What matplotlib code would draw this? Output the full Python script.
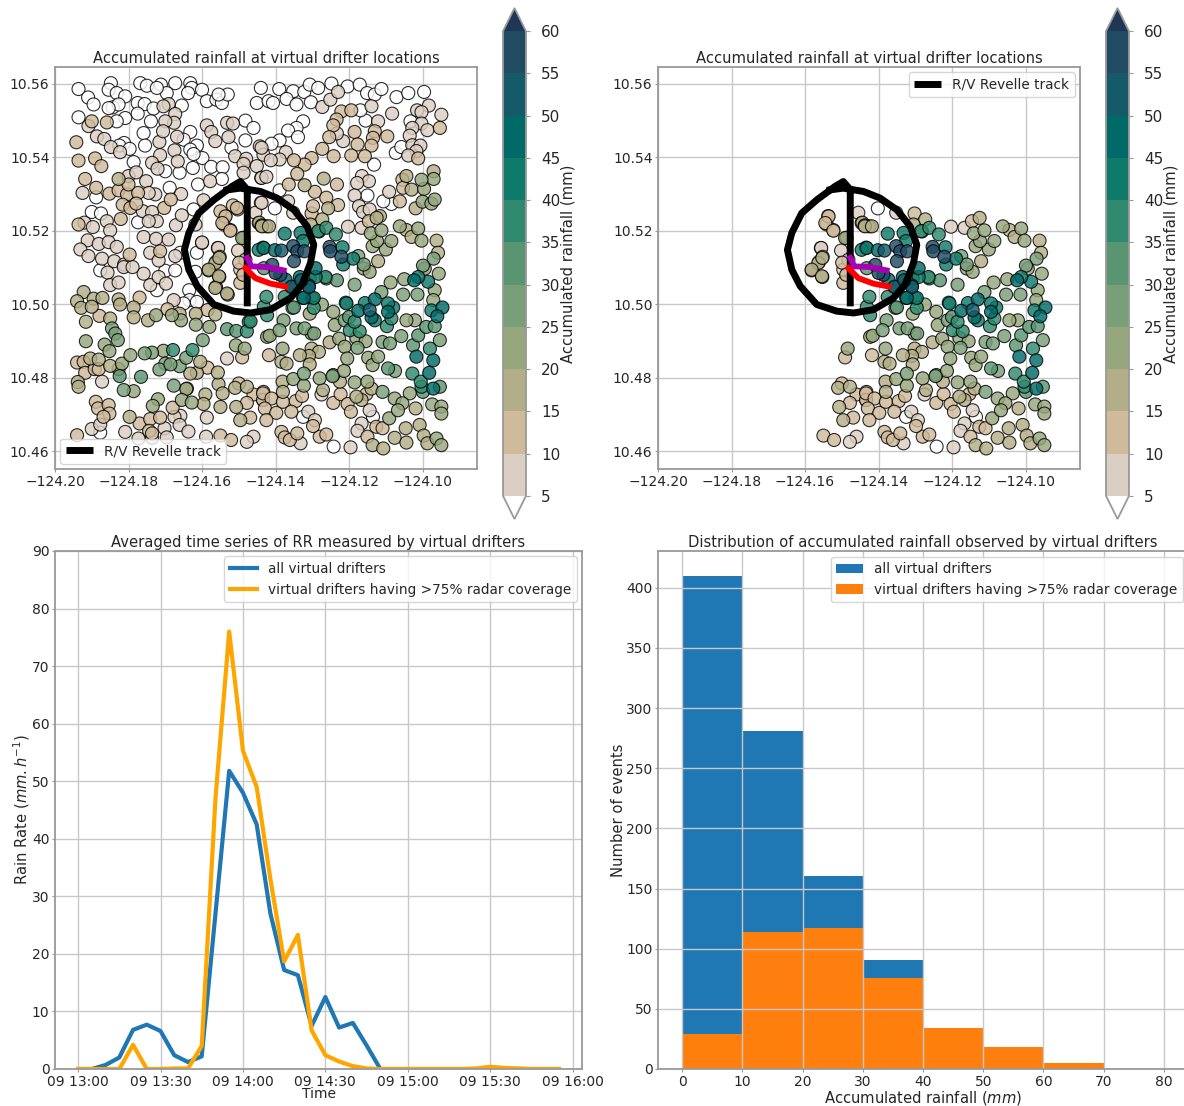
import numpy as np
import matplotlib
matplotlib.use("Agg")
import matplotlib.pyplot as plt
from matplotlib.colors import ListedColormap, BoundaryNorm
from matplotlib.path import Path
from matplotlib.cm import ScalarMappable
from matplotlib.ticker import FormatStrFormatter

# Drifter positions: offsets from lon -124.20 / lat 10.46, in 1e-4 degrees, grouped by rainfall class
P_3 = [(64,986),(152,1002),(90,963),(105,944),(146,984),(168,975),(191,966),(157,936),(173,944),(146,934),(232,1002),(250,995),(288,998),(327,1002),(368,1002),(372,989),(362,975),(400,984),(304,975),(277,989),(225,948),(244,945),(225,919),(268,933),(345,941),(413,953),(439,957),(454,948),(470,971),(445,971),(560,989),(549,948),(581,953),(64,909),(191,907),(168,898),(261,898),(241,866),(245,832),(368,869),(350,848),(386,832),(368,821),(401,798),(377,809),(518,900),(540,880),(518,846),(480,826),(188,839),(175,832),(203,823),(214,787),(300,762),(339,758),(375,771),(425,774),(456,773),(454,741),(389,726),(312,717),(112,691),(100,651),(125,647),(226,623),(377,658),(341,540),(386,540),
(610,986),(648,980),(678,978),(693,998),(716,989),(752,1001),(796,993),(829,998),(849,975),(870,971),(888,986),(929,964),(961,975),(1004,978),(593,948),(630,959),(657,944),(696,950),(675,898),(657,880),(634,873),(661,855),(611,846),(589,837),(845,900),(831,928),(868,780),(927,812),(942,828),(967,898),(850,696),(915,673),(893,680),(611,710),(598,661),
(123,492),(277,438),(300,491),(327,492),(365,438),(366,411),(350,402),(386,406),(123,50),(382,488),(758,12),(675,93),(865,93)]
P_7 = [(309,945),(295,939),(327,918),(324,894),(300,898),(91,885),(114,857),(134,850),(152,828),(177,814),(284,842),(294,871),(332,856),(325,819),(286,806),(334,789),(264,785),(279,769),(413,887),(425,869),(436,844),(472,855),(468,894),(484,892),(490,803),(520,796),(557,830),(567,807),(549,776),(513,782),(513,758),(561,744),(200,749),(221,759),(248,735),(75,703),(273,699),(255,703),(343,700),(422,735),(560,676),(404,683),(239,653),(264,651),(277,626),(255,626),(80,622),(103,610),(141,626),(150,601),(89,574),(119,564),(146,569),(168,556),(69,549),(91,531),(128,524),(161,517),(188,508),(241,583),(275,578),(309,576),(259,540),(282,519),(329,615),(345,642),(382,617),(400,567),(443,553),(327,531),(545,649),
(727,937),(749,957),(770,978),(861,939),(917,919),(879,898),(985,928),(1017,941),(1051,916),(997,923),(997,892),(972,880),(1013,874),(965,859),(972,833),(994,832),(983,817),(961,805),(784,844),(767,865),(628,814),(611,794),(587,792),(562,826),(562,744),(575,747),(835,749),(854,735),(822,730),(909,706),(815,696),(827,667),(838,651),(856,658),(634,680),(648,649),(562,676),(797,611),(834,608),
(143,486),(150,452),(173,459),(259,452),(282,474),(302,456),(241,483),(187,501),(211,501),(323,411),(128,189),(413,91),(341,96),(325,93),(339,71),(298,62),(363,53),(191,52),(100,60),(123,72),(227,34),(264,36),(304,37),(411,39),(540,39),(522,25),(468,252),
(668,21),(689,107),(707,84),(725,154),(804,10),(834,75),(823,55),(856,111),(566,139),(444,553),(498,546),(400,568),(504,494),(518,521)]
P_12 = [(100,898),(141,895),(58,841),(64,791),(109,797),(126,776),(82,741),(112,717),(148,701),(173,710),(196,699),(226,703),(200,726),(184,671),(205,662),(221,674),(297,662),(315,685),(179,632),(64,617),(203,535),(463,640),(450,653),(459,617),(477,602),(497,658),(484,669),(501,513),(286,544),
(779,925),(806,928),(766,903),(757,887),(746,855),(815,869),(823,835),(870,871),(865,853),(861,832),(904,857),(727,823),(758,803),(806,805),(843,803),(698,798),(679,780),(659,755),(650,792),(636,726),(767,726),(707,706),(738,690),(770,670),(698,647),(702,667),(938,680),(945,739),(947,717),(854,626),(1047,880),(988,797),
(230,418),(121,368),(60,241),(78,243),(82,213),(108,223),(119,223),(111,134),(117,116),(146,125),(148,102),(132,93),(230,75),(259,87),(286,91),(256,55),(264,48),(320,118),(306,386),(415,384),(415,227),(500,184),(509,255),(540,154),(567,161),(566,139),(522,131),(531,91),(60,43),(450,42),(479,30),
(582,261),(566,157),(589,143),(571,116),(602,104),(575,84),(616,52),(625,37),(639,30),(659,48),(620,134),(655,136),(672,150),(643,107),(720,39),(738,45),(757,131),(777,155),(796,128),(805,107),(847,155),(874,66),(891,62),(850,39),(702,68),
(504,458),(512,480),(464,639),(455,621),(477,600),(495,662),(554,621)]
P_17 = [(173,741),(556,622),(563,614),(513,581),(438,515),(448,529),
(731,742),(679,724),(743,661),(727,631),(695,617),(956,749),(970,712),(1030,762),(981,661),(575,612),(562,614),(956,602),(970,583),(1038,573),(1042,540),(879,517),(884,640),(875,635),
(78,433),(60,408),(71,390),(105,415),(100,393),(129,417),(173,413),(177,399),(214,391),(214,364),(150,361),(253,356),(84,352),(96,252),(119,249),(62,188),(64,175),(173,223),(150,232),(359,170),(409,154),(450,120),(404,128),(445,182),(456,157),(490,172),(522,175),(493,120),(504,84),(203,93),(443,214),(386,213),(368,211),(395,243),(438,447),(447,474),(418,492),(470,426),(383,374),(339,374),(436,372),
(616,243),(630,238),(698,279),(718,270),(691,259),(693,236),(666,261),(619,189),(620,161),(729,166),(775,189),(834,139),(820,148),(861,170),(981,116),(992,71),(924,36),(956,23),(864,16),(893,7),(1003,42),(1013,21),(954,62),(747,296),
(436,512),(447,526),(418,494),(446,476),(436,444),(468,429),(563,612),(582,612)]
P_22 = [(1030,741),(1004,714),(997,739),(1000,679),(1024,674),(1033,685),(938,612),(988,606),(997,573),(900,549),(915,572),(864,558),(876,572),(859,593),(888,601),
(84,299),(135,290),(148,272),(182,238),(205,261),(214,163),(280,141),(266,123),(357,169),(345,139),(372,132),(275,370),(420,338),(383,344),(343,356),(318,370),(492,288),(577,311),(516,279),(295,273),
(584,314),(619,279),(648,196),(677,178),(720,198),(757,207),(786,218),(815,187),(850,189),(924,143),(909,89),(965,157),(945,130),(933,111),(1026,127),(1051,121),(1051,102),(1038,34),(1051,16),(761,343),(757,379),(773,306),(726,399),(693,374),(698,320),(788,284),(795,252),(852,254),(864,234),(879,257),(820,308),(845,299),(913,459),(950,468),(840,497),(856,488),(1006,497),(1044,483),(1033,438),(1029,411),(979,356),(956,356),(509,580)]
P_27 = [(1030,524),(1001,505),(825,531),(840,508),
(155,334),(164,320),(171,302),(187,166),(323,178),(264,268),(244,266),(300,238),(284,222),(339,231),(357,254),(314,236),(402,302),
(622,356),(611,329),(657,334),(679,334),(705,320),(646,390),(823,281),(788,356),(891,161),(925,218),(891,297),(911,293),(942,313),(755,204),(677,211),(815,453),(888,433),(947,426),(986,426),(1047,302)]
P_32 = [(176,204),(234,202),(468,332),(493,327),(906,225),(693,470),(738,470),(767,465),(791,404),(800,365),(1001,161),(1047,175),(974,288),(988,315),(1010,338),(1033,340),(568,498),(650,391),(718,598)]
P_37 = [(716,599),(738,608),(764,590),(321,275),(374,275),(527,352),(522,326),(577,370),(568,393),(675,417),(700,415),(575,420),(625,420),(903,340),(972,211),(997,175),(995,189),(802,329),(829,326),(815,352),(915,361),(1020,279),(736,474),(704,390),(532,353)]
P_42 = [(625,592),(668,594),(675,572),(566,554),(782,555),(784,508),(811,524),(793,402),(843,403),(920,391),(906,402),(870,356),(1015,461),(1024,383),(988,474),(554,548),(568,553),(709,474),(704,417)]
P_47 = [(598,547),(825,382),(870,413),(861,364),(906,379),(1054,391),(1040,367),(983,257),(1029,247),(1018,213),(977,465),(1029,170),(709,498),(666,474),(690,451),(645,448),(627,467),(677,417)]
P_52 = [(691,447),(643,447),(670,465),(856,384),(616,546)]
P_57 = [(648,558),(659,544),(678,544),(650,517),(747,556),(749,544),(779,529),(591,507),(613,480),(600,485)]

class_points = [P_3, P_7, P_12, P_17, P_22, P_27, P_32, P_37, P_42, P_47, P_52, P_57]
class_rain = [3, 7.5, 12.5, 17.5, 22.5, 27.5, 32.5, 37.5, 42.5, 47.5, 52.5, 57.5]

# Ship track and short tracks, same offset units
track_x = [523,523,504,482,432,391,364,352,364,387,432,486,532,586,641,672,695,704,686,650,604,559,504,459]
track_y = [394,712,734,721,684,648,594,548,494,449,399,381,376,385,417,453,512,562,612,657,689,707,716,710]
purple_x = [523,534,577,622]
purple_y = [526,503,501,492]
red_x = [518,545,586,627]
red_y = [498,471,456,448]

# Region with >75% radar coverage, same offset units
cover_x = [415,469,501,537,528,487,406,428,442,542,641,732,805,870,960,1059,1077,1072]
cover_y = [-5,176,299,321,394,439,476,566,634,675,671,653,640,645,610,600,494,-5]

rain_levels = list(range(5, 65, 5))
rain_colors = ['#dbcfc3','#cfba9a','#b2ae87','#96a67d','#789f78','#5a9571',
               '#2f8a6e','#0d7a6a','#006a69','#155a69','#204b62']

minutes = list(range(0, 180, 5))
rr_all = [0,0,0.7,2.0,6.8,7.7,6.6,2.4,1.2,2.2,27,51.8,48,42.5,27,17.2,16.3,7.5,12.5,7.2,8,4.1,0,0,0,0,0,0,0,0,0,0,0,0,0,0]
rr_cov = [0,0,0,0,4.2,0,0,0.1,0.1,4,47,76,55.3,49,33,18.7,23.3,6.7,2.4,1.3,0.5,0.1,0,0,0,0,0,0,0,0.1,0.4,0.2,0.1,0,0,0]
time_ticks = [0,30,60,90,120,150,180]
time_labels = ['09 13:00','09 13:30','09 14:00','09 14:30','09 15:00','09 15:30','09 16:00']

hist_left = [0,10,20,30,40,50,60,70]
hist_all = [410,281,160,91,34,18,5,0]
hist_cov = [29,114,117,76,34,18,5,0]

W, H = 1184, 1106
GRID = '#c8c8c8'
SP = '#999999'
TXT = '#262626'
plt.rcParams.update({'font.family':'DejaVu Sans','text.color':TXT,'axes.labelcolor':TXT,
                     'xtick.labelcolor':TXT,'ytick.labelcolor':TXT,'xtick.color':SP,'ytick.color':SP,
                     'axes.edgecolor':SP,'axes.linewidth':1.3})
fig = plt.figure(figsize=(W/100, H/100), dpi=100)

def box(x0, y0, x1, y1):
    return fig.add_axes([x0/W, 1-y1/H, (x1-x0)/W, (y1-y0)/H])

cmap = ListedColormap(rain_colors)
cmap.set_under('white')
cmap.set_over('#1f3656')
norm = BoundaryNorm(rain_levels, cmap.N)

pts = np.array([p for c in class_points for p in c], float)
rain = np.array([r for c, r in zip(class_points, class_rain) for _ in c])
inside = Path(np.column_stack([cover_x, cover_y])).contains_points(pts)
lon = -124.20 + pts[:, 0]*1e-4
lat = 10.46 + pts[:, 1]*1e-4
LEG = 9.8

def draw_map(ax, mask, legend_loc):
    ax.set_axisbelow(True)
    ax.grid(True, color=GRID, lw=1)
    ax.scatter(lon[mask], lat[mask], c=rain[mask], s=88, cmap=cmap, norm=norm,
               edgecolors='black', linewidths=0.8, alpha=0.82, zorder=3)
    ax.plot(-124.20+np.array(track_x)*1e-4, 10.46+np.array(track_y)*1e-4, color='black', lw=5,
            solid_capstyle='butt', solid_joinstyle='round', zorder=4, label='R/V Revelle track')
    ax.plot(-124.20+np.array(purple_x)*1e-4, 10.46+np.array(purple_y)*1e-4, color='#a800b4', lw=4.2, zorder=5)
    ax.plot(-124.20+np.array(red_x)*1e-4, 10.46+np.array(red_y)*1e-4, color='red', lw=4.2, zorder=5)
    ax.set_xlim(-124.20, -124.0852)
    ax.set_ylim(10.4551, 10.5646)
    ax.set_xticks([-124.20,-124.18,-124.16,-124.14,-124.12,-124.10])
    ax.set_yticks([10.46,10.48,10.50,10.52,10.54,10.56])
    ax.yaxis.set_major_formatter(FormatStrFormatter('%.2f'))
    ax.set_xticklabels(['\u2212124.%02d' % v for v in [20,18,16,14,12,10]])
    ax.tick_params(labelsize=10, length=2, pad=2)
    ax.set_title('Accumulated rainfall at virtual drifter locations', fontsize=10.67, pad=3)
    ax.legend(loc=legend_loc, fontsize=LEG, borderaxespad=0.4)

def draw_cbar(x0, x1):
    cax = box(x0, 8, x1, 519)
    cb = fig.colorbar(ScalarMappable(norm=norm, cmap=cmap), cax=cax, extend='both',
                      ticks=rain_levels, spacing='uniform')
    cb.ax.tick_params(labelsize=11, length=3, pad=8)
    cb.set_label('Accumulated rainfall (mm)', fontsize=10.6)
    cb.ax.yaxis.set_label_coords(2.5, 0.5)

ax1 = box(55, 67, 477, 469)
draw_map(ax1, np.ones(len(lon), bool), 'lower left')
draw_cbar(503, 526)

ax2 = box(658, 67, 1080, 469)
draw_map(ax2, inside, 'upper right')
draw_cbar(1106, 1129)

ax3 = box(55, 551, 582, 1069)
ax3.grid(True, color=GRID, lw=1)
ax3.plot(minutes, rr_all, color='#1f77b4', lw=3, label='all virtual drifters')
ax3.plot(minutes, rr_cov, color='orange', lw=3, label='virtual drifters having >75% radar coverage')
ax3.set_xlim(-8.4, 183.4)
ax3.set_ylim(0, 90)
ax3.set_xticks(time_ticks)
ax3.set_xticklabels(time_labels)
ax3.tick_params(labelsize=10, length=2, pad=2)
ax3.set_xlabel('Time', fontsize=10, labelpad=-1)
ax3.set_ylabel(r'Rain Rate ($mm.h^{-1}$)', fontsize=10.6, labelpad=0)
ax3.set_title('Averaged time series of RR measured by virtual drifters', fontsize=10.67, pad=3)
ax3.legend(loc='upper right', fontsize=LEG, borderaxespad=0.4)

ax4 = box(658, 551, 1188, 1069)
ax4.grid(True, color=GRID, lw=1)
ax4.bar(hist_left, hist_all, width=10, align='edge', color='#1f77b4', label='all virtual drifters')
ax4.bar(hist_left, hist_cov, width=10, align='edge', color='#ff7f0e', label='virtual drifters having >75% radar coverage')
ax4.set_xlim(-4, 84)
ax4.set_ylim(0, 430.5)
ax4.set_xticks(range(0, 90, 10))
ax4.set_yticks(range(0, 450, 50))
ax4.tick_params(labelsize=10, length=2, pad=2)
ax4.set_xlabel(r'Accumulated rainfall ($mm$)', fontsize=10.6, labelpad=0)
ax4.set_ylabel('Number of events', fontsize=10.6, labelpad=0)
ax4.set_title('Distribution of accumulated rainfall observed by virtual drifters', fontsize=10.67, pad=3)
ax4.legend(loc='upper left', fontsize=LEG, bbox_to_anchor=(0.326, 0.989), borderaxespad=0)

fig.savefig('out.png', dpi=100)
